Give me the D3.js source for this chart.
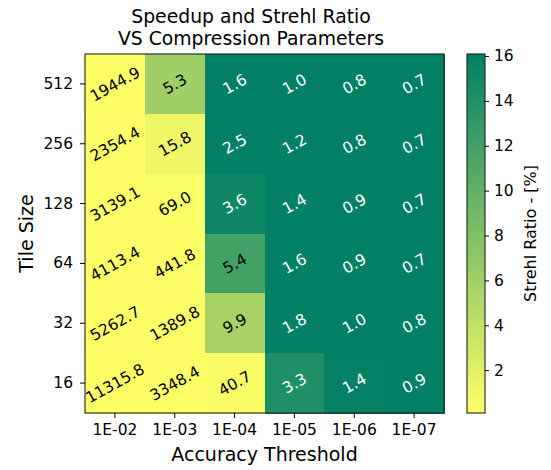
<!DOCTYPE html>
<html>
<head>
<meta charset="utf-8">
<script src="https://cdn.jsdelivr.net/npm/d3@7"></script>
<style>
  body { margin: 0; background: #fff; }
  text { font-family: "DejaVu Sans", sans-serif; fill: #000; }
</style>
</head>
<body>
<div id="chart"></div>
<script>
// data
var tileSizes = ["512", "256", "128", "64", "32", "16"];
var thresholds = ["1E-02", "1E-03", "1E-04", "1E-05", "1E-06", "1E-07"];
// speedup (cell text), rows = tile size, cols = threshold
var speedup = [
  [1944.9, 5.3, 1.6, 1.0, 0.8, 0.7],
  [2354.4, 15.8, 2.5, 1.2, 0.8, 0.7],
  [3139.1, 69.0, 3.6, 1.4, 0.9, 0.7],
  [4113.4, 441.8, 5.4, 1.6, 0.9, 0.7],
  [5262.7, 1389.8, 9.9, 1.8, 1.0, 0.8],
  [11315.8, 3348.4, 40.7, 3.3, 1.4, 0.9]
];
// strehl ratio (cell colour), estimated from the colours
var strehl = [
  [0.12, 6.1, 16.0, 16.0, 16.0, 16.0],
  [0.15, 1.1, 15.9, 15.95, 16.0, 16.0],
  [0.15, 0.25, 15.3, 15.9, 16.0, 16.0],
  [0.15, 0.15, 11.9, 15.9, 16.0, 16.0],
  [0.15, 0.15, 5.6, 15.9, 16.0, 16.0],
  [0.1, 0.15, 0.4, 14.2, 15.8, 16.0]
];
var cbarTicks = [2, 4, 6, 8, 10, 12, 14, 16];
var vmin = 0.09, vmax = 16.09;

var width = 551, height = 470;
var margin = {top: 54, left: 85};
var plotW = 359, plotH = 359;

var svg = d3.select("#chart").append("svg")
  .attr("width", width)
  .attr("height", height);

// matplotlib "summer_r"
function summerR(t) {
  var x = 1 - t;
  return d3.rgb(x * 255, (0.5 + 0.5 * x) * 255, 0.4 * 255).toString();
}
var color = d3.scaleSequential(summerR).domain([vmin, vmax]);

var x = d3.scaleBand().domain(thresholds).range([0, plotW]);
var y = d3.scaleBand().domain(tileSizes).range([0, plotH]);

var g = svg.append("g")
  .attr("transform", "translate(" + margin.left + "," + margin.top + ")");

// flatten the grid into cells
var cells = [];
tileSizes.forEach(function(ts, i) {
  thresholds.forEach(function(th, j) {
    cells.push({ts: ts, th: th, s: strehl[i][j], v: speedup[i][j]});
  });
});

g.selectAll("rect.cell")
  .data(cells).enter()
  .append("rect")
    .attr("class", "cell")
    .attr("x", function(d) { return x(d.th); })
    .attr("y", function(d) { return y(d.ts); })
    .attr("width", x.bandwidth() + 1)
    .attr("height", y.bandwidth() + 1)
    .attr("shape-rendering", "crispEdges")
    .attr("fill", function(d) { return color(d.s); });

g.selectAll("text.val")
  .data(cells).enter()
  .append("text")
    .attr("class", "val")
    .attr("transform", function(d) {
      var cx = x(d.th) + x.bandwidth() / 2, cy = y(d.ts) + y.bandwidth() / 2;
      return "translate(" + cx + "," + cy + ") rotate(-29)";
    })
    .attr("text-anchor", "middle")
    .attr("dy", "0.36em")
    .style("font-size", "15.5px")
    .style("fill", function(d) { return d.s > 13 ? "#fff" : "#000"; })
    .text(function(d) { return d.v.toFixed(1); });

// frame
g.append("rect")
  .attr("width", plotW).attr("height", plotH)
  .attr("fill", "none").attr("stroke", "#222").attr("stroke-width", 1.1);

// axes
var xAxis = g.append("g")
  .attr("transform", "translate(0," + plotH + ")")
  .call(d3.axisBottom(x).tickSize(5).tickPadding(6));
var yAxis = g.append("g")
  .call(d3.axisLeft(y).tickSize(5).tickPadding(7));
[xAxis, yAxis].forEach(function(a) {
  a.select(".domain").remove();
  a.selectAll("line").attr("stroke", "#000");
  a.selectAll("text").style("font-size", "15.5px").attr("font-family", null);
});

svg.append("text")
  .attr("x", margin.left + plotW / 2).attr("y", 461)
  .attr("text-anchor", "middle")
  .style("font-size", "19px")
  .text("Accuracy Threshold");

svg.append("text")
  .attr("transform", "translate(33," + (margin.top + plotH / 2) + ") rotate(-90)")
  .attr("text-anchor", "middle")
  .style("font-size", "19px")
  .text("Tile Size");

// title
var title = svg.append("text")
  .attr("text-anchor", "middle")
  .style("font-size", "18.8px");
title.append("tspan").attr("x", 251).attr("y", 23).text("Speedup and Strehl Ratio");
title.append("tspan").attr("x", 251).attr("y", 44.5).text("VS Compression Parameters");

// colorbar
var cbX = 467, cbW = 18;
var cbY = d3.scaleLinear().domain([vmin, vmax]).range([margin.top + plotH, margin.top]);

var grad = svg.append("defs").append("linearGradient")
  .attr("id", "cbar")
  .attr("x1", 0).attr("y1", 1).attr("x2", 0).attr("y2", 0);
d3.range(0, 1.0001, 0.1).forEach(function(t) {
  grad.append("stop")
    .attr("offset", t)
    .attr("stop-color", summerR(t));
});

svg.append("rect")
  .attr("x", cbX).attr("y", margin.top)
  .attr("width", cbW).attr("height", plotH)
  .attr("fill", "url(#cbar)")
  .attr("stroke", "#222").attr("stroke-width", 1.1);

var cbAxis = svg.append("g")
  .attr("transform", "translate(" + (cbX + cbW) + ",0)")
  .call(d3.axisRight(cbY).tickValues(cbarTicks).tickSize(4).tickPadding(5));
cbAxis.select(".domain").remove();
cbAxis.selectAll("line").attr("stroke", "#000");
cbAxis.selectAll("text").style("font-size", "15.5px").attr("font-family", null);

svg.append("text")
  .attr("transform", "translate(536," + (margin.top + plotH / 2) + ") rotate(-90)")
  .attr("text-anchor", "middle")
  .style("font-size", "16px")
  .text("Strehl Ratio - [%]");
</script>
</body>
</html>
